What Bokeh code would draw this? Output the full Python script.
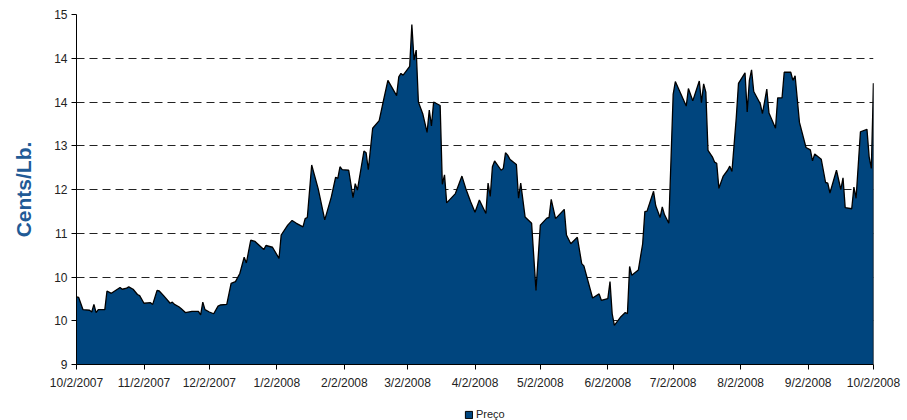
import pandas as pd
from bokeh.plotting import figure
from bokeh.layouts import column
from bokeh.models import FixedTicker, Legend, LegendItem, Range1d, ColumnDataSource
from bokeh.embed import file_html
from bokeh.resources import INLINE

# ---------------- data ----------------
dates = [
    "2007-10-02", "2007-10-03", "2007-10-05", "2007-10-08", "2007-10-09", "2007-10-10",
    "2007-10-11", "2007-10-12", "2007-10-15", "2007-10-16", "2007-10-18", "2007-10-22",
    "2007-10-23", "2007-10-25", "2007-10-26", "2007-10-28", "2007-10-30", "2007-10-31",
    "2007-11-02", "2007-11-05", "2007-11-06", "2007-11-08", "2007-11-09", "2007-11-11",
    "2007-11-14", "2007-11-15", "2007-11-16", "2007-11-18", "2007-11-19", "2007-11-21",
    "2007-11-24", "2007-11-27", "2007-11-28", "2007-11-29", "2007-11-30", "2007-12-02",
    "2007-12-04", "2007-12-06", "2007-12-07", "2007-12-10", "2007-12-12", "2007-12-14",
    "2007-12-16", "2007-12-18", "2007-12-19", "2007-12-21", "2007-12-23", "2007-12-27",
    "2007-12-28", "2007-12-31", "2008-01-03", "2008-01-04", "2008-01-07", "2008-01-09",
    "2008-01-11", "2008-01-14", "2008-01-15", "2008-01-16", "2008-01-18", "2008-01-21",
    "2008-01-24", "2008-01-27", "2008-01-29", "2008-01-30", "2008-01-31", "2008-02-01",
    "2008-02-04", "2008-02-06", "2008-02-07", "2008-02-08", "2008-02-11", "2008-02-12",
    "2008-02-13", "2008-02-15", "2008-02-18", "2008-02-20", "2008-02-22", "2008-02-26",
    "2008-02-27", "2008-02-28", "2008-02-29", "2008-03-03", "2008-03-04", "2008-03-05",
    "2008-03-06", "2008-03-07", "2008-03-09", "2008-03-11", "2008-03-12", "2008-03-13",
    "2008-03-14", "2008-03-17", "2008-03-18", "2008-03-19", "2008-03-20", "2008-03-24",
    "2008-03-27", "2008-03-29", "2008-03-31", "2008-04-02", "2008-04-04", "2008-04-07",
    "2008-04-08", "2008-04-09", "2008-04-10", "2008-04-11", "2008-04-14", "2008-04-15",
    "2008-04-16", "2008-04-17", "2008-04-18", "2008-04-21", "2008-04-22", "2008-04-23",
    "2008-04-25", "2008-04-28", "2008-04-30", "2008-05-02", "2008-05-05", "2008-05-06",
    "2008-05-07", "2008-05-09", "2008-05-13", "2008-05-14", "2008-05-16", "2008-05-19",
    "2008-05-21", "2008-05-22", "2008-05-26", "2008-05-29", "2008-05-30", "2008-06-02",
    "2008-06-03", "2008-06-04", "2008-06-05", "2008-06-08", "2008-06-10", "2008-06-11",
    "2008-06-12", "2008-06-13", "2008-06-16", "2008-06-18", "2008-06-19", "2008-06-20",
    "2008-06-23", "2008-06-24", "2008-06-26", "2008-06-27", "2008-06-28", "2008-06-30",
    "2008-07-01", "2008-07-02", "2008-07-03", "2008-07-08", "2008-07-09", "2008-07-11",
    "2008-07-14", "2008-07-15", "2008-07-16", "2008-07-17", "2008-07-18", "2008-07-20",
    "2008-07-21", "2008-07-22", "2008-07-23", "2008-07-25", "2008-07-27", "2008-07-28",
    "2008-07-29", "2008-07-31", "2008-08-01", "2008-08-04", "2008-08-05", "2008-08-06",
    "2008-08-07", "2008-08-08", "2008-08-11", "2008-08-12", "2008-08-14", "2008-08-15",
    "2008-08-18", "2008-08-19", "2008-08-21", "2008-08-22", "2008-08-25", "2008-08-26",
    "2008-08-27", "2008-08-29", "2008-09-01", "2008-09-03", "2008-09-04", "2008-09-05",
    "2008-09-08", "2008-09-10", "2008-09-11", "2008-09-12", "2008-09-15", "2008-09-17",
    "2008-09-18", "2008-09-19", "2008-09-22", "2008-09-23", "2008-09-24", "2008-09-26",
    "2008-09-29", "2008-09-30", "2008-10-01", "2008-10-02",
]

prices = [
    10.16, 10.15, 9.94, 9.93, 9.90, 10.03,
    9.89, 9.94, 9.94, 10.26, 10.22, 10.32,
    10.29, 10.31, 10.33, 10.29, 10.20, 10.18,
    10.05, 10.06, 10.03, 10.27, 10.26, 10.18,
    10.05, 10.07, 10.03, 9.99, 9.96, 9.89,
    9.91, 9.91, 9.85, 10.07, 9.94, 9.90,
    9.87, 10.00, 10.02, 10.03, 10.39, 10.42,
    10.56, 10.84, 10.74, 11.13, 11.11, 10.97,
    11.04, 11.01, 10.82, 11.22, 11.39, 11.47,
    11.42, 11.36, 11.50, 11.52, 12.42, 12.01,
    11.48, 11.87, 12.21, 12.19, 12.39, 12.34,
    12.33, 11.86, 12.10, 11.99, 12.66, 12.63,
    12.34, 13.05, 13.18, 13.53, 13.87, 13.61,
    13.93, 13.99, 13.96, 14.11, 14.83, 14.22,
    14.39, 13.50, 13.30, 12.98, 13.36, 13.09,
    13.50, 13.44, 12.09, 12.25, 11.77, 11.93,
    12.23, 11.99, 11.79, 11.61, 11.82, 11.59,
    12.11, 11.88, 12.39, 12.49, 12.33, 12.36,
    12.63, 12.59, 12.52, 12.43, 11.85, 12.11,
    11.53, 11.42, 10.27, 11.39, 11.51, 11.52,
    11.83, 11.50, 11.66, 11.22, 11.07, 11.18,
    10.73, 10.69, 10.14, 10.21, 10.10, 10.13,
    10.42, 9.87, 9.67, 9.82, 9.89, 9.87,
    10.68, 10.53, 10.62, 11.07, 11.62, 11.63,
    11.97, 11.72, 11.52, 11.70, 11.57, 11.42,
    12.50, 13.63, 13.85, 13.43, 13.73, 13.52,
    13.86, 13.49, 13.81, 13.67, 12.67, 12.56,
    12.47, 12.45, 12.02, 12.23, 12.33, 12.40,
    12.31, 13.24, 13.82, 14.00, 13.33, 13.87,
    14.05, 13.68, 13.47, 13.30, 13.72, 13.31,
    13.05, 13.57, 13.57, 14.01, 14.01, 13.87,
    13.95, 13.15, 12.72, 12.68, 12.49, 12.61,
    12.52, 12.12, 12.11, 11.94, 12.33, 12.00,
    12.20, 11.69, 11.67, 12.04, 11.85, 12.99,
    13.03, 12.56, 12.36, 13.82,
]

series_name = "Preço"
y_title = "Cents/Lb."

y_ticks = [9, 9.75, 10.5, 11.25, 12, 12.75, 13.5, 14.25, 15]
y_tick_labels = ["9", "10", "10", "11", "12", "13", "14", "14", "15"]

x_tick_dates = [
    "2007-10-02", "2007-11-02", "2007-12-02", "2008-01-02", "2008-02-02", "2008-03-02",
    "2008-04-02", "2008-05-02", "2008-06-02", "2008-07-02", "2008-08-02", "2008-09-02",
    "2008-10-02",
]
x_tick_labels = [
    "10/2/2007", "11/2/2007", "12/2/2007", "1/2/2008", "2/2/2008", "3/2/2008",
    "4/2/2008", "5/2/2008", "6/2/2008", "7/2/2008", "8/2/2008", "9/2/2008",
    "10/2/2008",
]

# ---------------- styling ----------------
AREA = "#00457E"
TITLE_BLUE = "#215A96"
FONT = "Liberation Sans"


def to_ms(d):
    return float(pd.Timestamp(d).value // 10**6)


x = pd.to_datetime(dates)
x_ticks_ms = [to_ms(d) for d in x_tick_dates]
y_min, y_max = y_ticks[0], y_ticks[-1]

src = ColumnDataSource(dict(x=x, y=prices))

p = figure(
    width=907, height=400,
    x_axis_type="datetime",
    x_range=Range1d(x_ticks_ms[0], x_ticks_ms[-1]),
    y_range=Range1d(y_min, y_max),
    output_backend="svg", toolbar_location=None,
    min_border_left=76, min_border_right=34, min_border_top=14, min_border_bottom=36,
)
p.outline_line_color = None
p.background_fill_color = "white"
p.border_fill_color = "white"

p.varea(x="x", y1=y_min, y2="y", source=src, fill_color=AREA)
p.line(x="x", y="y", source=src, line_color="black", line_width=1.3)
p.segment(x0=[x[-1]], x1=[x[-1]], y0=[y_min], y1=[prices[-1]],
          line_color="black", line_width=1.3)

# x axis
xa = p.xaxis[0]
xa.ticker = FixedTicker(ticks=x_ticks_ms)
xa.major_label_overrides = {t: lab for t, lab in zip(x_ticks_ms, x_tick_labels)}
xa.minor_tick_line_color = None
xa.major_tick_in = 0
xa.major_tick_out = 5
xa.major_label_standoff = 6
xa.axis_line_color = "black"
xa.major_tick_line_color = "black"
xa.major_label_text_font = FONT
xa.major_label_text_font_size = "12px"
xa.major_label_text_color = "#222222"

# y axis
ya = p.yaxis[0]
ya.ticker = FixedTicker(ticks=y_ticks)
ya.major_label_overrides = {t: lab for t, lab in zip(y_ticks, y_tick_labels)}
ya.minor_tick_line_color = None
ya.major_tick_in = 0
ya.major_tick_out = 5
ya.major_label_standoff = 4
ya.axis_line_color = "black"
ya.major_tick_line_color = "black"
ya.major_label_text_font = FONT
ya.major_label_text_font_size = "12px"
ya.major_label_text_color = "#222222"
ya.axis_label = y_title
ya.axis_label_text_font = FONT
ya.axis_label_text_font_style = "bold"
ya.axis_label_text_font_size = "21px"
ya.axis_label_text_color = TITLE_BLUE
ya.axis_label_standoff = 16

p.xgrid.visible = False
p.ygrid.grid_line_color = "#222222"
p.ygrid.grid_line_dash = "8 5"
p.ygrid.grid_line_width = 1

# legend strip below the chart
leg = figure(width=907, height=20, output_backend="svg", toolbar_location=None,
             x_axis_location=None, y_axis_location=None,
             min_border=0, min_border_left=0, min_border_right=0,
             min_border_top=0, min_border_bottom=0,
             x_range=Range1d(0, 1), y_range=Range1d(0, 1))
leg.outline_line_color = None
leg.xgrid.visible = False
leg.ygrid.visible = False
proxy = leg.quad(left=[float("nan")], right=[float("nan")], bottom=[float("nan")], top=[float("nan")],
                 fill_color=AREA, line_color="black", line_width=1)
legend = Legend(items=[LegendItem(label=series_name, renderers=[proxy])],
                location=(388, 0), orientation="horizontal",
                glyph_width=9, glyph_height=9, label_standoff=3, padding=0, margin=0,
                spacing=0, border_line_color=None, background_fill_alpha=0,
                label_text_font=FONT, label_text_font_size="11px", label_text_color="#222222",
                label_height=12)
leg.add_layout(legend, "center")

layout = column(p, leg, spacing=0)

open("out.html", "w").write(file_html(layout, INLINE))
